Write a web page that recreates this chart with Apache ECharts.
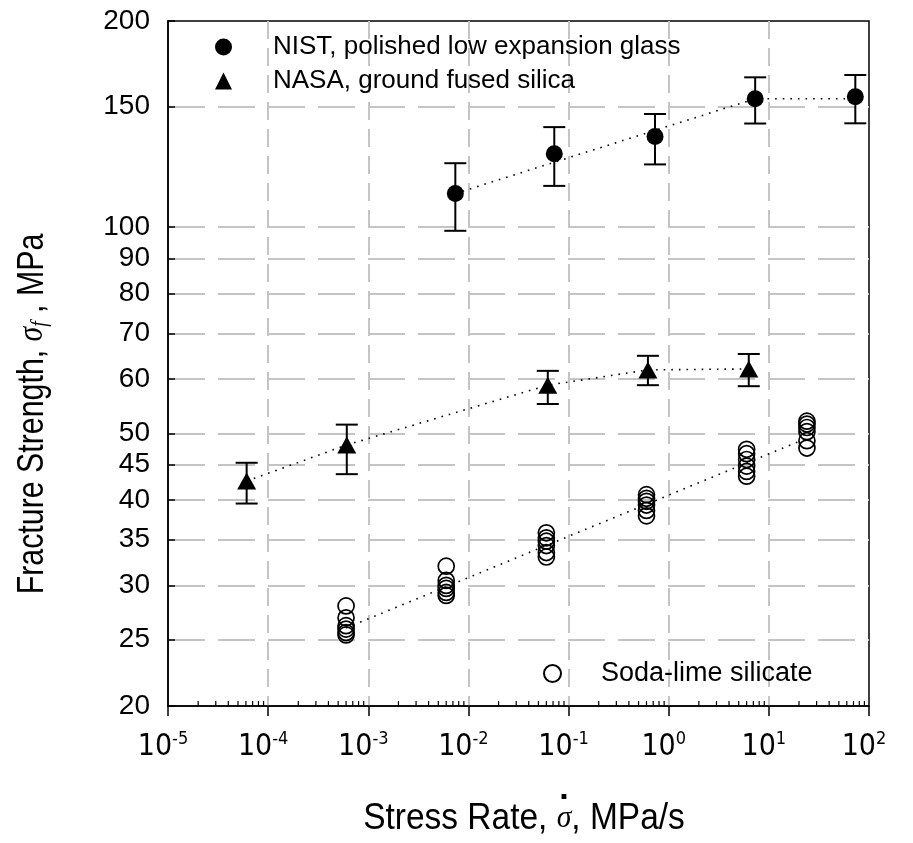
<!DOCTYPE html>
<html>
<head>
<meta charset="utf-8">
<script src="https://cdn.jsdelivr.net/npm/echarts@6/dist/echarts.min.js"></script>
<style>
html, body { margin: 0; padding: 0; background: #fff; }
#chart { width: 913px; height: 843px; }
</style>
</head>
<body>
<div id="chart"></div>
<script>
// axis ticks
var yTicks = [20, 25, 30, 35, 40, 45, 50, 60, 70, 80, 90, 100, 150, 200];
var xDecades = [1e-5, 1e-4, 1e-3, 1e-2, 1e-1, 1, 10];
var minorMultiples = [2, 3, 4, 5, 6, 7, 8, 9];

// NIST, polished low expansion glass (mean, upper, lower), MPa
var nistRate = [0.0074, 0.072, 0.73, 7.3, 73];
var nistMean = [112, 128, 135.6, 154, 155];
var nistHigh = [124, 140, 146.3, 165.5, 166.8];
var nistLow = [98.8, 114.9, 123.5, 141.7, 141.8];
var nistFitRate = [0.0074, 7.3, 73];
var nistFit = [112, 154, 154];

// NASA, ground fused silica
var nasaRate = [6.1e-5, 6.1e-4, 0.062, 0.62, 6.3];
var nasaMean = [42.6, 48.1, 58.8, 61.9, 62.1];
var nasaHigh = [45.3, 51.5, 61.7, 64.9, 65.3];
var nasaLow = [39.5, 43.6, 55.2, 58.8, 58.6];

// Soda-lime silicate, individual specimens
var sodaRate = [6e-4, 6e-3, 0.06, 0.6, 6, 24];
var sodaValues = [
    [28.0, 26.9, 26.2, 25.9, 25.6, 25.4],
    [32.0, 30.5, 30.0, 29.7, 29.3, 29.0],
    [35.8, 35.2, 34.8, 34.3, 33.5, 33.0],
    [40.7, 40.2, 39.8, 39.3, 38.6, 37.9],
    [47.4, 46.7, 45.8, 44.8, 44.0, 43.3],
    [52.1, 51.6, 51.0, 50.3, 48.8, 47.6]
];
var sodaFitRate = [6e-4, 24];
var sodaFit = [26.0, 49.2];

var NARROW = "'Liberation Sans Narrow', 'DejaVu Sans Condensed', 'Liberation Sans', Arial, sans-serif";
var SANS = "'Liberation Sans', Arial, sans-serif";
var SERIF = "'Liberation Serif', 'DejaVu Serif', serif";

function pairs(xs, ys) {
    return xs.map(function (x, i) { return [x, ys[i]]; });
}

var nistBars = nistRate.map(function (x, i) { return [x, nistLow[i], nistHigh[i]]; });
var nasaBars = nasaRate.map(function (x, i) { return [x, nasaLow[i], nasaHigh[i]]; });
var sodaPoints = [];
sodaRate.forEach(function (x, i) {
    sodaValues[i].forEach(function (v) { sodaPoints.push([x, v]); });
});
var minorTicks = [];
xDecades.forEach(function (d) {
    minorMultiples.forEach(function (m) { minorTicks.push([d * m, 20]); });
});

function errorBar(params, api) {
    var x = api.value(0);
    var lo = api.coord([x, api.value(1)]);
    var hi = api.coord([x, api.value(2)]);
    var w = 11;
    var style = { stroke: '#000', lineWidth: 2 };
    return {
        type: 'group',
        children: [
            { type: 'line', shape: { x1: lo[0], y1: lo[1], x2: hi[0], y2: hi[1] }, style: style },
            { type: 'line', shape: { x1: lo[0] - w, y1: lo[1], x2: lo[0] + w, y2: lo[1] }, style: style },
            { type: 'line', shape: { x1: hi[0] - w, y1: hi[1], x2: hi[0] + w, y2: hi[1] }, style: style }
        ]
    };
}

function minorTick(params, api) {
    var p = api.coord([api.value(0), api.value(1)]);
    return {
        type: 'line',
        shape: { x1: p[0], y1: p[1], x2: p[0], y2: p[1] - 5 },
        style: { stroke: '#000', lineWidth: 1.2 }
    };
}

// x title: measure so the dot sits over the sigma
var ctx = document.createElement('canvas').getContext('2d');
ctx.font = '36px ' + SANS;
var w1 = ctx.measureText('Stress Rate, ').width;
var w2 = ctx.measureText(', MPa/s').width;
ctx.font = 'italic 32px ' + SERIF;
var wS = ctx.measureText('σ').width;
var xsx = 0.93;
var x0 = 524 - (w1 + wS + w2) * xsx / 2;
var dotX = x0 + (w1 + wS * 0.5) * xsx;

var chart = echarts.init(document.getElementById('chart'));

var fitStyle = { color: '#000', width: 1.6, type: [1.6, 6] };

chart.setOption({
    animation: false,
    backgroundColor: '#fff',
    grid: {
        left: 168, right: 44, top: 21, bottom: 137,
        show: true, borderColor: '#000', borderWidth: 1.5, backgroundColor: 'transparent'
    },
    legend: [
        {
            data: ['NIST, polished low expansion glass', 'NASA, ground fused silica'],
            orient: 'vertical',
            left: 210, top: 29,
            itemWidth: 17, itemHeight: 17, itemGap: 8,
            textStyle: { fontSize: 26, color: '#000', fontFamily: SANS, padding: [0, 0, 0, 36] }
        },
        {
            data: ['Soda-lime silicate'],
            left: 538, top: 655,
            itemWidth: 17, itemHeight: 17,
            textStyle: { fontSize: 27, color: '#000', fontFamily: SANS, padding: [0, 0, 0, 35] }
        }
    ],
    xAxis: {
        type: 'log', logBase: 10, min: 1e-5, max: 100,
        axisLine: { show: true, lineStyle: { color: '#000', width: 1.5 } },
        axisTick: { show: true, inside: false, length: 10, lineStyle: { color: '#000', width: 1.5 } },
        axisLabel: {
            margin: 24, color: '#000', padding: [0, 10, 0, 0],
            formatter: function (v) {
                var e = Math.round(Math.log10(v));
                return '{b|10}{s|' + e + '}';
            },
            rich: {
                b: { fontSize: 30, fontFamily: NARROW, color: '#000', lineHeight: 34 },
                s: { fontSize: 18, fontFamily: NARROW, color: '#000', verticalAlign: 'top', lineHeight: 34 }
            }
        },
        splitLine: {
            show: true, showMinLine: false, showMaxLine: false,
            lineStyle: { color: '#c4c4c4', width: 2, type: [18, 9] }
        }
    },
    yAxis: {
        type: 'log', logBase: 10, min: 20, max: 200,
        axisLine: { show: true, lineStyle: { color: '#000', width: 1.5 } },
        axisTick: { show: true, inside: true, length: 7, customValues: yTicks, lineStyle: { color: '#000', width: 1.5 } },
        axisLabel: { customValues: yTicks, margin: 18, fontSize: 28, color: '#000', fontFamily: SANS },
        splitLine: {
            show: true, showMinLine: false, showMaxLine: false,
            lineStyle: { color: '#c4c4c4', width: 2, type: [37, 13] }
        }
    },
    graphic: [
        {
            type: 'text', x: 33, y: 414, rotation: Math.PI / 2, scaleX: 0.82,
            style: {
                text: '{n|Fracture Strength, }{g|σ}{f|f}{n| , MPa}',
                align: 'center', verticalAlign: 'middle',
                rich: {
                    n: { fontSize: 37, fontFamily: SANS, fill: '#000' },
                    g: { fontSize: 36, fontFamily: SERIF, fontStyle: 'italic', fill: '#000' },
                    f: { fontSize: 24, fontFamily: SERIF, fontStyle: 'italic', fill: '#000', verticalAlign: 'bottom', padding: [14, 0, 0, 0] }
                }
            }
        },
        {
            type: 'text', x: x0, y: 819, scaleX: xsx,
            style: {
                text: '{n|Stress Rate, }{g|σ}{n|, MPa/s}',
                align: 'left', verticalAlign: 'middle',
                rich: {
                    n: { fontSize: 36, fontFamily: SANS, fill: '#000' },
                    g: { fontSize: 32, fontFamily: SERIF, fontStyle: 'italic', fill: '#000' }
                }
            }
        },
        {
            type: 'text', x: dotX, y: 790,
            style: { text: '.', fontSize: 34, fontWeight: 'bold', fontFamily: SANS, fill: '#000', align: 'center', verticalAlign: 'middle' }
        }
    ],
    series: [
        {
            type: 'custom', name: 'minor ticks', renderItem: minorTick, data: minorTicks,
            encode: { x: 0, y: 1 }, silent: true, z: 1
        },
        {
            type: 'line', name: 'NIST fit', data: pairs(nistFitRate, nistFit),
            showSymbol: false, lineStyle: fitStyle, z: 2
        },
        {
            type: 'line', name: 'NASA fit', data: pairs(nasaRate, nasaMean),
            showSymbol: false, lineStyle: fitStyle, z: 2
        },
        {
            type: 'line', name: 'Soda fit', data: pairs(sodaFitRate, sodaFit),
            showSymbol: false, lineStyle: fitStyle, z: 2
        },
        {
            type: 'custom', name: 'NIST err', renderItem: errorBar, data: nistBars,
            encode: { x: 0, y: [1, 2] }, z: 3
        },
        {
            type: 'custom', name: 'NASA err', renderItem: errorBar, data: nasaBars,
            encode: { x: 0, y: [1, 2] }, z: 3
        },
        {
            type: 'scatter', name: 'NIST, polished low expansion glass',
            data: pairs(nistRate, nistMean),
            symbol: 'circle', symbolSize: 17,
            itemStyle: { color: '#000', opacity: 1 }, z: 4
        },
        {
            type: 'scatter', name: 'NASA, ground fused silica',
            data: pairs(nasaRate, nasaMean),
            symbol: 'triangle', symbolSize: [19, 17],
            itemStyle: { color: '#000', opacity: 1 }, z: 4
        },
        {
            type: 'scatter', name: 'Soda-lime silicate',
            data: sodaPoints,
            symbol: 'circle', symbolSize: 16,
            itemStyle: { color: 'rgba(0,0,0,0)', borderColor: '#000', borderWidth: 1.7, opacity: 1 }, z: 4
        }
    ]
});
</script>
</body>
</html>
